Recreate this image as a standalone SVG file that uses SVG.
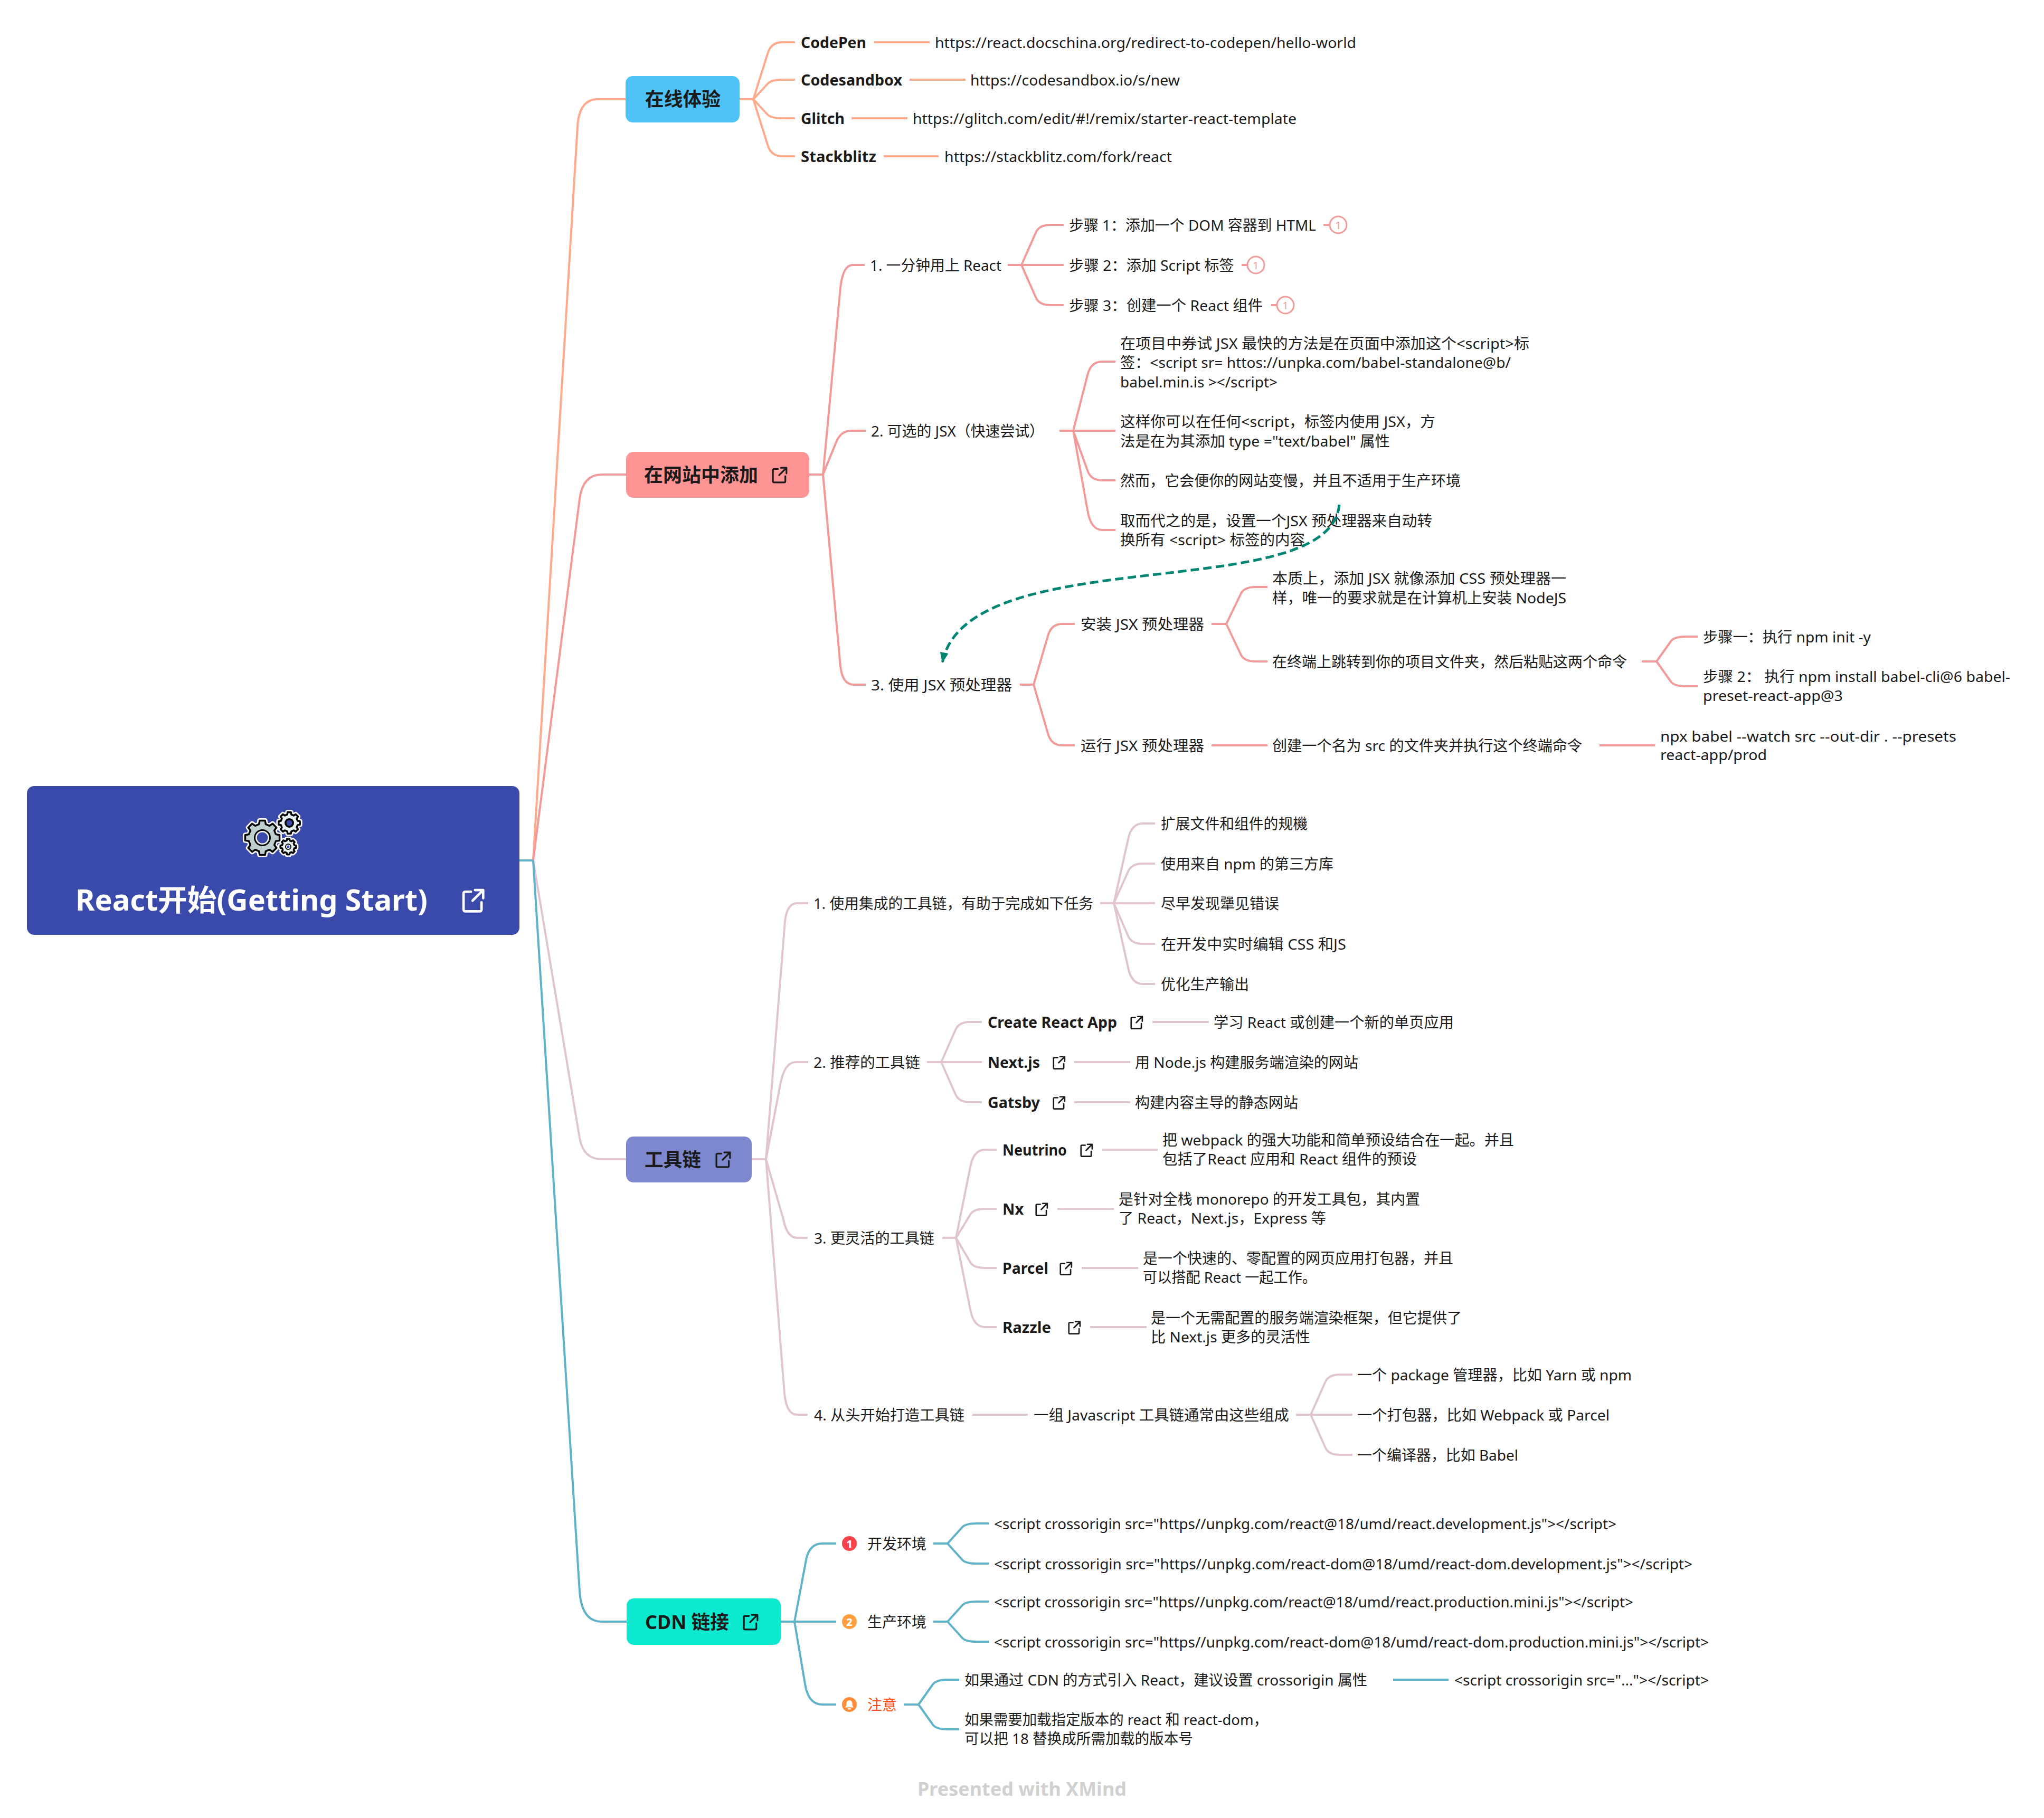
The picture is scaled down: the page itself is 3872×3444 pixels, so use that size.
<svg xmlns="http://www.w3.org/2000/svg" width="3872" height="3444" viewBox="0 0 3872 3444">
<style>
text{font-family:"Noto Sans","Noto Sans CJK SC",sans-serif;dominant-baseline:central;fill:#1a1a1a;white-space:pre}
.t{font-size:28px}
.b{font-size:28px;font-weight:700}
.h{font-size:36px;font-weight:700}
.r{font-size:56px;font-weight:700;fill:#fff}
.w{font-size:36px;font-weight:700;fill:#d0d0d0}
.o{font-size:28px;fill:#ff4a12}
.num{font-size:20px;font-weight:800;fill:#fff;text-anchor:middle}
.pn{font-size:20px;fill:#f29a9a;text-anchor:middle}
.c path{fill:none;stroke-width:4;stroke-linecap:butt}
.c1 path{stroke:#ffa98d}
.c2 path{stroke:#f29a9a}
.c3 path{stroke:#e0c5cf}
.c4 path{stroke:#5fb2c7}
.ic{fill:none;stroke:#1a1a1a;stroke-width:3;stroke-linecap:round;stroke-linejoin:round}
.pc{fill:#fff;stroke:#f29a9a;stroke-width:3}
.g0{stroke:#fff;stroke-width:9;stroke-linejoin:round}
.g1{stroke:#000;stroke-width:3.500;stroke-linejoin:round}
</style>
<defs>
<g id="lnk"><path d="M11 4H4a2 2 0 0 0-2 2v20a2 2 0 0 0 2 2h18a2 2 0 0 0 2-2V17M16 2h10v10M26 2L13 15"/></g>
<polygon id="gear" vector-effect="non-scaling-stroke" points="23.3,-5.8 29.6,-4.7 29.6,4.7 23.3,5.8 20.6,12.4 24.3,17.6 17.6,24.3 12.4,20.6 5.8,23.3 4.7,29.6 -4.7,29.6 -5.8,23.3 -12.4,20.6 -17.6,24.3 -24.3,17.6 -20.6,12.4 -23.3,5.8 -29.6,4.7 -29.6,-4.7 -23.3,-5.8 -20.6,-12.4 -24.3,-17.6 -17.6,-24.3 -12.4,-20.6 -5.8,-23.3 -4.7,-29.6 4.7,-29.6 5.8,-23.3 12.4,-20.6 17.6,-24.3 24.3,-17.6 20.6,-12.4"/>
<marker id="arr" markerUnits="userSpaceOnUse" markerWidth="24" markerHeight="20" refX="20" refY="8" orient="auto"><path d="M0 0L20 8L0 16Z" fill="#008573"/></marker>
</defs>
<rect width="3872" height="3444" fill="#fff"/>

<g id="connectors" class="c">
<g class="c1">
<path d="M1010 1630L1094 240Q1097 188 1132 188H1186"/>
<path d="M1401 188H1427L1454 102Q1460 80 1482 80H1506"/>
<path d="M1427 188L1454 159Q1460 151 1482 151H1506"/>
<path d="M1427 188L1454 217Q1460 224 1482 224H1506"/>
<path d="M1427 188L1454 274Q1460 296 1482 296H1506"/>
<path d="M1656 80H1761M1723 151H1829M1613 224H1719M1674 296H1778"/>
</g>
<g class="c2">
<path d="M1010 1630L1098 945Q1104 899 1140 899H1186"/>
<path d="M1533 899H1559L1592 545Q1597 502 1615 502H1638"/>
<path d="M1559 899L1583 840Q1592 816 1612 816H1640"/>
<path d="M1559 899L1592 1262Q1596 1297 1617 1297H1640"/>
<path d="M1909 502H2015M1935 502L1962 441Q1968 426 1990 426H2015M1935 502L1962 563Q1968 578 1990 578H2015"/>
<path d="M2507 426H2520M2352 502H2364M2408 578H2420"/>
<path d="M2007 816H2113M2033 816L2060 711Q2066 685 2088 685H2113M2033 816L2060 891Q2066 910 2088 910H2113M2033 816L2060 966Q2066 1004 2088 1004H2113"/>
<path d="M1932 1297H1958L1985 1205Q1991 1182 2012 1182H2036M1958 1297L1985 1389Q1991 1412 2012 1412H2036"/>
<path d="M2295 1182H2323L2350 1126Q2356 1112 2378 1112H2401M2323 1182L2350 1239Q2356 1253 2378 1253H2401"/>
<path d="M2295 1412H2401M3030 1412H3135"/>
<path d="M3110 1253H3138L3165 1215Q3171 1206 3193 1206H3216M3138 1253L3165 1291Q3171 1300 3193 1300H3216"/>
</g>
<g class="c3">
<path d="M1010 1630L1098 2156Q1105 2196 1140 2196H1186"/>
<path d="M1424 2196H1451L1487 1745Q1491 1711 1510 1711H1531"/>
<path d="M1451 2196L1479 2050Q1487 2012 1508 2012H1531"/>
<path d="M1451 2196L1484 2310Q1491 2345 1510 2345H1530"/>
<path d="M1451 2196L1486 2640Q1490 2680 1510 2680H1530"/>
<path d="M2084 1711H2188M2110 1711L2137 1590Q2143 1560 2165 1560H2188M2110 1711L2137 1651Q2143 1636 2165 1636H2188M2110 1711L2137 1773Q2143 1788 2165 1788H2188M2110 1711L2137 1833Q2143 1864 2165 1864H2188"/>
<path d="M1756 2012H1860M1783 2012L1810 1951Q1816 1936 1838 1936H1860M1783 2012L1810 2073Q1816 2088 1838 2088H1860"/>
<path d="M2183 1936H2290M2035 2012H2141M2035 2088H2141"/>
<path d="M1785 2345H1811L1838 2211Q1844 2178 1866 2178H1888M1811 2345L1838 2301Q1844 2290 1866 2290H1888M1811 2345L1838 2391Q1844 2402 1866 2402H1888M1811 2345L1838 2480Q1844 2514 1866 2514H1888"/>
<path d="M2088 2178H2193M2003 2290H2110M2049 2402H2156M2065 2514H2172"/>
<path d="M1842 2680H1947"/>
<path d="M2455 2680H2562M2483 2680L2510 2619Q2516 2604 2538 2604H2562M2483 2680L2510 2741Q2516 2756 2538 2756H2562"/>
</g>
<g class="c4">
<path d="M1010 1630L1098 3015Q1102 3072 1140 3072H1187"/>
<path d="M984 1630H1010"/>
<path d="M1479 3072H1584"/>
<path d="M1505 3072L1527 2955Q1533 2924 1558 2924H1584"/>
<path d="M1505 3072L1525 3190Q1531 3229 1558 3229H1584"/>
<path d="M1768 2924H1795L1822 2894Q1828 2886 1850 2886H1873M1795 2924L1822 2954Q1828 2962 1850 2962H1873"/>
<path d="M1768 3072H1795L1822 3042Q1828 3034 1850 3034H1873M1795 3072L1822 3102Q1828 3110 1850 3110H1873"/>
<path d="M1712 3229H1740L1767 3191Q1773 3182 1795 3182H1817M1740 3229L1767 3267Q1773 3276 1795 3276H1817"/>
<path d="M2639 3182H2744"/>
</g>
</g>

<g id="root">
<rect x="51" y="1489" width="933" height="282" rx="14" fill="#3a4aaa"/>
<use href="#gear" transform="translate(548 1559) scale(.68)" fill="#e8f3f3" class="g0"/>
<use href="#gear" transform="translate(546 1604) scale(.5)" fill="#e8f3f3" class="g0"/>
<use href="#gear" transform="translate(497 1587) scale(1.1)" fill="#bfcfd0" class="g0"/>
<use href="#gear" transform="translate(548 1559) scale(.68)" fill="#e8f3f3" class="g1"/>
<use href="#gear" transform="translate(546 1604) scale(.5)" fill="#e8f3f3" class="g1"/>
<use href="#gear" transform="translate(497 1587) scale(1.1)" fill="#bfcfd0" class="g1"/>
<circle cx="497" cy="1587" r="16" fill="#000"/><circle cx="497" cy="1587" r="13" fill="#fff"/><circle cx="497" cy="1587" r="10.500" fill="#3a4aaa"/>
<circle cx="548" cy="1559" r="9" fill="#000"/><circle cx="548" cy="1559" r="5.500" fill="#3a4aaa"/>
<circle cx="546" cy="1604" r="6" fill="#000"/><circle cx="546" cy="1604" r="4" fill="#fff"/><circle cx="546" cy="1604" r="2.500" fill="#3a4aaa"/>
<text class="r" x="143" y="1703" textLength="667" lengthAdjust="spacingAndGlyphs">React开始(Getting Start)</text>
<use href="#lnk" transform="translate(875 1683) scale(1.55)" class="ic" style="stroke:#fff"/>
</g>

<g id="b1">
<rect x="1185" y="144" width="216" height="88" rx="14" fill="#4fc2f8"/>
<text class="h" x="1222" y="187" textLength="143" lengthAdjust="spacingAndGlyphs">在线体验</text>
</g>
<g id="b1-codepen"><text class="b" x="1517" y="80" textLength="124" lengthAdjust="spacingAndGlyphs">CodePen</text></g>
<g id="b1-codepen-url"><text class="t" x="1771" y="80" textLength="798" lengthAdjust="spacingAndGlyphs">https://react.docschina.org/redirect-to-codepen/hello-world</text></g>
<g id="b1-codesandbox"><text class="b" x="1517" y="151" textLength="192" lengthAdjust="spacingAndGlyphs">Codesandbox</text></g>
<g id="b1-codesandbox-url"><text class="t" x="1838" y="151" textLength="397" lengthAdjust="spacingAndGlyphs">https://codesandbox.io/s/new</text></g>
<g id="b1-glitch"><text class="b" x="1517" y="224" textLength="83" lengthAdjust="spacingAndGlyphs">Glitch</text></g>
<g id="b1-glitch-url"><text class="t" x="1729" y="224" textLength="727" lengthAdjust="spacingAndGlyphs">https://glitch.com/edit/#!/remix/starter-react-template</text></g>
<g id="b1-stackblitz"><text class="b" x="1517" y="296" textLength="143" lengthAdjust="spacingAndGlyphs">Stackblitz</text></g>
<g id="b1-stackblitz-url"><text class="t" x="1789" y="296" textLength="431" lengthAdjust="spacingAndGlyphs">https://stackblitz.com/fork/react</text></g>

<g id="b2">
<rect x="1186" y="856" width="347" height="87" rx="14" fill="#ff9494"/>
<text class="h" x="1220" y="899" textLength="216" lengthAdjust="spacingAndGlyphs">在网站中添加</text>
<use href="#lnk" transform="translate(1462 884) scale(1.07)" class="ic"/>
</g>
<g id="b2-1"><text class="t" x="1648" y="502" textLength="249" lengthAdjust="spacingAndGlyphs">1. 一分钟用上 React</text></g>
<g id="b2-1-1"><text class="t" x="2025" y="426" textLength="468" lengthAdjust="spacingAndGlyphs">步骤 1：添加一个 DOM 容器到 HTML</text><circle class="pc" cx="2535" cy="426" r="16"/><text class="pn" x="2535" y="426">1</text></g>
<g id="b2-1-2"><text class="t" x="2025" y="502" textLength="313" lengthAdjust="spacingAndGlyphs">步骤 2：添加 Script 标签</text><circle class="pc" cx="2379" cy="502" r="16"/><text class="pn" x="2379" y="502">1</text></g>
<g id="b2-1-3"><text class="t" x="2025" y="578" textLength="367" lengthAdjust="spacingAndGlyphs">步骤 3：创建一个 React 组件</text><circle class="pc" cx="2435" cy="578" r="16"/><text class="pn" x="2435" y="578">1</text></g>
<g id="b2-2"><text class="t" x="1650" y="816" textLength="328" lengthAdjust="spacingAndGlyphs">2. 可选的 JSX（快速尝试）</text></g>
<g id="b2-2-1">
<text class="t" x="2122" y="650" textLength="775" lengthAdjust="spacingAndGlyphs">在项目中券试 JSX 最快的方法是在页面中添加这个&lt;script&gt;标</text>
<text class="t" x="2122" y="686" textLength="740" lengthAdjust="spacingAndGlyphs">签：&lt;script sr= httos://unpka.com/babel-standalone@b/</text>
<text class="t" x="2122" y="723" textLength="298" lengthAdjust="spacingAndGlyphs">babel.min.is &gt;&lt;/script&gt;</text>
</g>
<g id="b2-2-2">
<text class="t" x="2122" y="798" textLength="597" lengthAdjust="spacingAndGlyphs">这样你可以在任何&lt;script，标签内使用 JSX，方</text>
<text class="t" x="2122" y="835" textLength="511" lengthAdjust="spacingAndGlyphs">法是在为其添加 type ="text/babel" 属性</text>
</g>
<g id="b2-2-3"><text class="t" x="2122" y="910" textLength="645" lengthAdjust="spacingAndGlyphs">然而，它会便你的网站变慢，并且不适用于生产环境</text></g>
<g id="b2-2-4">
<text class="t" x="2122" y="986" textLength="591" lengthAdjust="spacingAndGlyphs">取而代之的是，设置一个JSX 预处理器来自动转</text>
<text class="t" x="2122" y="1022" textLength="350" lengthAdjust="spacingAndGlyphs">换所有 &lt;script&gt; 标签的内容</text>
</g>
<g id="b2-3"><text class="t" x="1650" y="1297" textLength="267" lengthAdjust="spacingAndGlyphs">3. 使用 JSX 预处理器</text></g>
<g id="b2-3-1"><text class="t" x="2047" y="1182" textLength="234" lengthAdjust="spacingAndGlyphs">安装 JSX 预处理器</text></g>
<g id="b2-3-1-1">
<text class="t" x="2410" y="1095" textLength="557" lengthAdjust="spacingAndGlyphs">本质上，添加 JSX 就像添加 CSS 预处理器一</text>
<text class="t" x="2410" y="1132" textLength="557" lengthAdjust="spacingAndGlyphs">样，唯一的要求就是在计算机上安装 NodeJS</text>
</g>
<g id="b2-3-1-2"><text class="t" x="2410" y="1253" textLength="672" lengthAdjust="spacingAndGlyphs">在终端上跳转到你的项目文件夹，然后粘贴这两个命令</text></g>
<g id="b2-3-1-2-1"><text class="t" x="3226" y="1206" textLength="318" lengthAdjust="spacingAndGlyphs">步骤一：执行 npm init -y</text></g>
<g id="b2-3-1-2-2">
<text class="t" x="3226" y="1281" textLength="582" lengthAdjust="spacingAndGlyphs">步骤 2： 执行 npm install babel-cli@6 babel-</text>
<text class="t" x="3226" y="1317" textLength="265" lengthAdjust="spacingAndGlyphs">preset-react-app@3</text>
</g>
<g id="b2-3-2"><text class="t" x="2047" y="1412" textLength="234" lengthAdjust="spacingAndGlyphs">运行 JSX 预处理器</text></g>
<g id="b2-3-2-1"><text class="t" x="2410" y="1412" textLength="587" lengthAdjust="spacingAndGlyphs">创建一个名为 src 的文件夹并执行这个终端命令</text></g>
<g id="b2-3-2-2">
<text class="t" x="3145" y="1394" textLength="561" lengthAdjust="spacingAndGlyphs">npx babel --watch src --out-dir . --presets</text>
<text class="t" x="3145" y="1429" textLength="202" lengthAdjust="spacingAndGlyphs">react-app/prod</text>
</g>

<g id="b3">
<rect x="1186" y="2153" width="238" height="87" rx="14" fill="#7d88ce"/>
<text class="h" x="1221" y="2196" textLength="107" lengthAdjust="spacingAndGlyphs">工具链</text>
<use href="#lnk" transform="translate(1355 2181) scale(1.07)" class="ic"/>
</g>
<g id="b3-1"><text class="t" x="1541" y="1711" textLength="530" lengthAdjust="spacingAndGlyphs">1. 使用集成的工具链，有助于完成如下任务</text></g>
<g id="b3-1-1"><text class="t" x="2199" y="1560" textLength="278" lengthAdjust="spacingAndGlyphs">扩展文件和组件的规機</text></g>
<g id="b3-1-2"><text class="t" x="2199" y="1636" textLength="327" lengthAdjust="spacingAndGlyphs">使用来自 npm 的第三方库</text></g>
<g id="b3-1-3"><text class="t" x="2199" y="1711" textLength="224" lengthAdjust="spacingAndGlyphs">尽早发现犟见错误</text></g>
<g id="b3-1-4"><text class="t" x="2199" y="1788" textLength="351" lengthAdjust="spacingAndGlyphs">在开发中实时编辑 CSS 和JS</text></g>
<g id="b3-1-5"><text class="t" x="2199" y="1864" textLength="167" lengthAdjust="spacingAndGlyphs">优化生产输出</text></g>
<g id="b3-2"><text class="t" x="1541" y="2012" textLength="202" lengthAdjust="spacingAndGlyphs">2. 推荐的工具链</text></g>
<g id="b3-2-1"><text class="b" x="1871" y="1936" textLength="245" lengthAdjust="spacingAndGlyphs">Create React App</text><use href="#lnk" transform="translate(2141 1924) scale(.88)" class="ic"/></g>
<g id="b3-2-1-1"><text class="t" x="2299" y="1936" textLength="455" lengthAdjust="spacingAndGlyphs">学习 React 或创建一个新的单页应用</text></g>
<g id="b3-2-2"><text class="b" x="1871" y="2012" textLength="99" lengthAdjust="spacingAndGlyphs">Next.js</text><use href="#lnk" transform="translate(1994 2000) scale(.88)" class="ic"/></g>
<g id="b3-2-2-1"><text class="t" x="2150" y="2012" textLength="423" lengthAdjust="spacingAndGlyphs">用 Node.js 构建服务端渲染的网站</text></g>
<g id="b3-2-3"><text class="b" x="1871" y="2088" textLength="99" lengthAdjust="spacingAndGlyphs">Gatsby</text><use href="#lnk" transform="translate(1994 2076) scale(.88)" class="ic"/></g>
<g id="b3-2-3-1"><text class="t" x="2150" y="2088" textLength="309" lengthAdjust="spacingAndGlyphs">构建内容主导的静态网站</text></g>
<g id="b3-3"><text class="t" x="1542" y="2345" textLength="228" lengthAdjust="spacingAndGlyphs">3. 更灵活的工具链</text></g>
<g id="b3-3-1"><text class="b" x="1899" y="2178" textLength="122" lengthAdjust="spacingAndGlyphs">Neutrino</text><use href="#lnk" transform="translate(2046 2166) scale(.88)" class="ic"/></g>
<g id="b3-3-1-1">
<text class="t" x="2202" y="2159" textLength="666" lengthAdjust="spacingAndGlyphs">把 webpack 的强大功能和简单预设结合在一起。并且</text>
<text class="t" x="2202" y="2195" textLength="482" lengthAdjust="spacingAndGlyphs">包括了React 应用和 React 组件的预设</text>
</g>
<g id="b3-3-2"><text class="b" x="1899" y="2290" textLength="40" lengthAdjust="spacingAndGlyphs">Nx</text><use href="#lnk" transform="translate(1961 2278) scale(.88)" class="ic"/></g>
<g id="b3-3-2-1">
<text class="t" x="2119" y="2271" textLength="571" lengthAdjust="spacingAndGlyphs">是针对全栈 monorepo 的开发工具包，其内置</text>
<text class="t" x="2119" y="2307" textLength="393" lengthAdjust="spacingAndGlyphs">了 React，Next.js，Express 等</text>
</g>
<g id="b3-3-3"><text class="b" x="1899" y="2402" textLength="87" lengthAdjust="spacingAndGlyphs">Parcel</text><use href="#lnk" transform="translate(2007 2390) scale(.88)" class="ic"/></g>
<g id="b3-3-3-1">
<text class="t" x="2165" y="2383" textLength="588" lengthAdjust="spacingAndGlyphs">是一个快速的、零配置的网页应用打包器，并且</text>
<text class="t" x="2165" y="2419" textLength="329" lengthAdjust="spacingAndGlyphs">可以搭配 React 一起工作。</text>
</g>
<g id="b3-3-4"><text class="b" x="1899" y="2514" textLength="92" lengthAdjust="spacingAndGlyphs">Razzle</text><use href="#lnk" transform="translate(2023 2502) scale(.88)" class="ic"/></g>
<g id="b3-3-4-1">
<text class="t" x="2180" y="2496" textLength="589" lengthAdjust="spacingAndGlyphs">是一个无需配置的服务端渲染框架，但它提供了</text>
<text class="t" x="2180" y="2532" textLength="302" lengthAdjust="spacingAndGlyphs">比 Next.js 更多的灵活性</text>
</g>
<g id="b3-4"><text class="t" x="1542" y="2680" textLength="285" lengthAdjust="spacingAndGlyphs">4. 从头开始打造工具链</text></g>
<g id="b3-4-1"><text class="t" x="1958" y="2680" textLength="484" lengthAdjust="spacingAndGlyphs">一组 Javascript 工具链通常由这些组成</text></g>
<g id="b3-4-1-1"><text class="t" x="2571" y="2604" textLength="520" lengthAdjust="spacingAndGlyphs">一个 package 管理器，比如 Yarn 或 npm</text></g>
<g id="b3-4-1-2"><text class="t" x="2571" y="2680" textLength="478" lengthAdjust="spacingAndGlyphs">一个打包器，比如 Webpack 或 Parcel</text></g>
<g id="b3-4-1-3"><text class="t" x="2571" y="2756" textLength="305" lengthAdjust="spacingAndGlyphs">一个编译器，比如 Babel</text></g>

<g id="b4">
<rect x="1187" y="3028" width="292" height="88" rx="14" fill="#0de9cf"/>
<text class="h" x="1222" y="3072" textLength="159" lengthAdjust="spacingAndGlyphs">CDN 链接</text>
<use href="#lnk" transform="translate(1407 3057) scale(1.07)" class="ic"/>
</g>
<g id="b4-1"><circle cx="1609" cy="2924" r="14" fill="#f7434b"/><text class="num" x="1609" y="2924">1</text><text class="t" x="1643" y="2924" textLength="112" lengthAdjust="spacingAndGlyphs">开发环境</text></g>
<g id="b4-1-1"><text class="t" x="1883" y="2886" textLength="1179" lengthAdjust="spacingAndGlyphs">&lt;script crossorigin src="https//unpkg.com/react@18/umd/react.development.js"&gt;&lt;/script&gt;</text></g>
<g id="b4-1-2"><text class="t" x="1883" y="2962" textLength="1323" lengthAdjust="spacingAndGlyphs">&lt;script crossorigin src="https//unpkg.com/react-dom@18/umd/react-dom.development.js"&gt;&lt;/script&gt;</text></g>
<g id="b4-2"><circle cx="1609" cy="3072" r="14" fill="#ff9f3f"/><text class="num" x="1609" y="3072">2</text><text class="t" x="1643" y="3072" textLength="112" lengthAdjust="spacingAndGlyphs">生产环境</text></g>
<g id="b4-2-1"><text class="t" x="1883" y="3034" textLength="1211" lengthAdjust="spacingAndGlyphs">&lt;script crossorigin src="https//unpkg.com/react@18/umd/react.production.mini.js"&gt;&lt;/script&gt;</text></g>
<g id="b4-2-2"><text class="t" x="1883" y="3110" textLength="1354" lengthAdjust="spacingAndGlyphs">&lt;script crossorigin src="https//unpkg.com/react-dom@18/umd/react-dom.production.mini.js"&gt;&lt;/script&gt;</text></g>
<g id="b4-3"><circle cx="1609" cy="3229" r="14" fill="#ff8c38"/><path d="M1601 3234.500C1603.500 3232 1603.500 3229 1603.500 3226.500a5.500 5.500 0 0 1 11 0C1614.500 3229 1614.500 3232 1617 3234.500Z" fill="#fff"/><rect x="1606" y="3236" width="6" height="2.500" rx="1" fill="#fff"/><text class="o" x="1643" y="3229" textLength="56" lengthAdjust="spacingAndGlyphs">注意</text></g>
<g id="b4-3-1"><text class="t" x="1827" y="3182" textLength="763" lengthAdjust="spacingAndGlyphs">如果通过 CDN 的方式引入 React，建议设置 crossorigin 属性</text></g>
<g id="b4-3-1-1"><text class="t" x="2755" y="3182" textLength="482" lengthAdjust="spacingAndGlyphs">&lt;script crossorigin src="..."&gt;&lt;/script&gt;</text></g>
<g id="b4-3-2">
<text class="t" x="1827" y="3257" textLength="575" lengthAdjust="spacingAndGlyphs">如果需要加载指定版本的 react 和 react-dom，</text>
<text class="t" x="1827" y="3293" textLength="433" lengthAdjust="spacingAndGlyphs">可以把 18 替换成所需加载的版本号</text>
</g>
<g id="watermark"><text class="w" x="1738" y="3388" textLength="396" lengthAdjust="spacingAndGlyphs">Presented with XMind</text></g>

<g id="relationship">
<path d="M2537 956C2520 1150 1830 1020 1785 1256" fill="none" stroke="#008573" stroke-width="5" stroke-dasharray="16 8" marker-end="url(#arr)"/>
</g>
</svg>
